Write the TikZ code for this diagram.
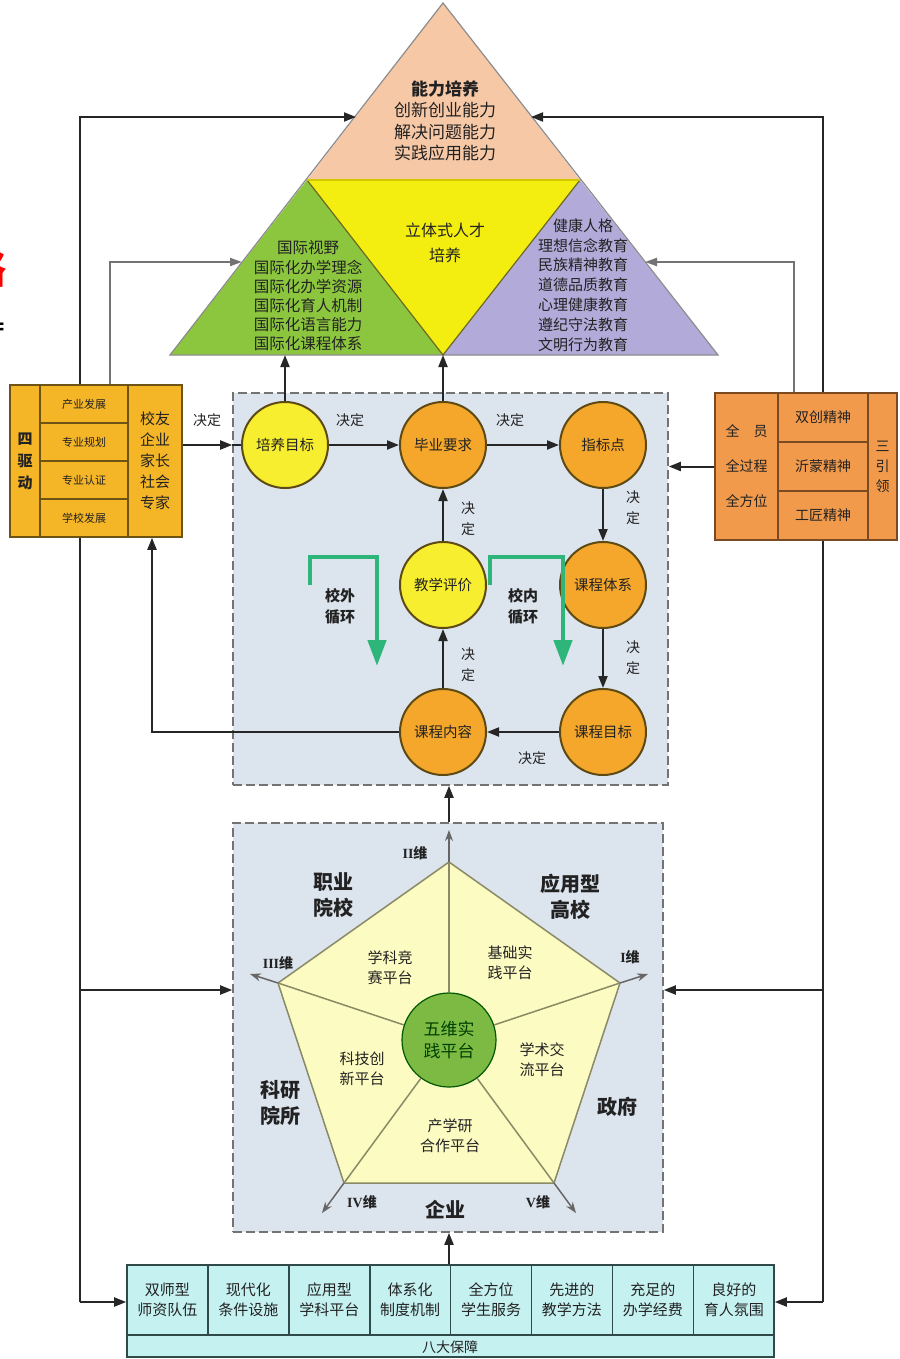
\documentclass[tikz,border=0pt]{standalone}
\usepackage{fontspec}
\setmainfont{Noto Sans CJK SC}
\newfontfamily\romanfont{Liberation Serif}
\usetikzlibrary{arrows.meta,calc}
\definecolor{peach}{HTML}{F6C8A6}
\definecolor{triyel}{HTML}{F4EE10}
\definecolor{trigrn}{HTML}{8CC63E}
\definecolor{tripur}{HTML}{B2ABD9}
\definecolor{goldbox}{HTML}{F4B526}
\definecolor{goldline}{HTML}{6E5414}
\definecolor{orgbox}{HTML}{F19A4C}
\definecolor{orgline}{HTML}{7A4A22}
\definecolor{cyel}{HTML}{F6EE2E}
\definecolor{corg}{HTML}{F4A72A}
\definecolor{cline}{HTML}{5E4A14}
\definecolor{panel}{HTML}{DCE4EE}
\definecolor{pent}{HTML}{FCFBC2}
\definecolor{pentline}{HTML}{8A8A66}
\definecolor{pgrn}{HTML}{7DBA44}
\definecolor{cell}{HTML}{C6F1F1}
\definecolor{cellline}{HTML}{2F4A48}
\definecolor{loopgrn}{HTML}{2DB57A}
\definecolor{txt}{HTML}{222222}
\tikzset{
  arr/.style={-{Triangle[length=12pt,width=9pt]}, line width=2pt, draw=black!85},
  plainline/.style={line width=2pt, draw=black!85},
  garr/.style={-{Triangle[length=12pt,width=8pt]}, line width=2pt, draw=black!55},
  parr/.style={-{Stealth[length=11pt,width=8pt]}, line width=1.5pt, draw=black!60},
  looparr/.style={-{Triangle[length=26pt,width=18pt]}, line width=4.5pt, draw=loopgrn},
  circ/.style={circle, minimum size=86pt, inner sep=0, line width=2pt, draw=cline, text=txt, font=\fontsize{14.5}{17}\selectfont},
  lbl/.style={font=\fontsize{14}{21}\selectfont, align=center, inner sep=0, text=txt},
  blbl/.style={font=\bfseries\fontsize{15}{21}\selectfont, align=center, inner sep=0, text=txt},
  plat/.style={font=\fontsize{15}{20}\selectfont, align=center, inner sep=0, text=txt},
  org/.style={font=\bfseries\fontsize{20}{26}\selectfont, align=center, inner sep=0, text=txt},
  wei/.style={font=\bfseries\fontsize{14}{16}\selectfont, inner sep=0, text=txt},
  tritxt/.style={align=center, inner sep=0, text=txt},
  dbox/.style={draw=black!55, line width=1.6pt, dash pattern=on 9pt off 4pt, fill=panel, inner sep=0},
  gcell/.style={draw=goldline, line width=1.6pt, fill=goldbox, inner sep=0, align=center, text=txt},
  ocell/.style={draw=orgline, line width=1.6pt, fill=orgbox, inner sep=0, align=center, text=txt},
  bcell/.style={draw=cellline, line width=1.6pt, fill=cell, inner sep=0, align=center, text=txt, font=\fontsize{15}{20}\selectfont, minimum height=70pt, minimum width=80.9pt}
}
\begin{document}
\begin{tikzpicture}[x=1pt,y=-1pt]
\useasboundingbox (0,0) rectangle (899,1359);
\fill[white] (0,0) rectangle (899,1359);

% ---------- triangle ----------
\coordinate (apex) at (443,3);
\coordinate (bl) at (170,355);
\coordinate (br) at (718,355);
\coordinate (ml) at (307,180);
\coordinate (mr) at (580,180);
\coordinate (mb) at (443,355);
\fill[peach] (apex)--(ml)--(mr)--cycle;
\fill[trigrn] (ml)--(bl)--(mb)--cycle;
\fill[tripur] (mr)--(mb)--(br)--cycle;
\fill[triyel] (ml)--(mr)--(mb)--cycle;
\draw[line width=1.2pt, draw=black!45] (apex)--(bl)--(br)--cycle;
\draw[line width=1.2pt, draw=olive!70!black] (ml)--(mb)--(mr);
\draw[line width=2.5pt, draw=yellow!60!olive] (ml)--(mr);

\node[tritxt, font=\fontsize{17}{21.5}\selectfont] (ability) at (445,121)
  {\textbf{能力培养}\\创新创业能力\\解决问题能力\\实践应用能力};
\node[tritxt, font=\fontsize{16}{25}\selectfont] (core) at (445,243) {立体式人才\\培养};
\node[tritxt, font=\fontsize{15.5}{19.2}\selectfont] (intl) at (308,296)
  {国际视野\\国际化办学理念\\国际化办学资源\\国际化育人机制\\国际化语言能力\\国际化课程体系};
\node[tritxt, font=\fontsize{15}{19.8}\selectfont] (moral) at (583,285)
  {健康人格\\理想信念教育\\民族精神教育\\道德品质教育\\心理健康教育\\遵纪守法教育\\文明行为教育};

% ---------- trunk lines ----------
\coordinate (L1) at (80,117);
\coordinate (L2) at (80,1302);
\coordinate (L3) at (80,990);
\coordinate (R1) at (823,117);
\coordinate (R2) at (823,1302);
\coordinate (R3) at (823,990);
\coordinate (tl) at (356,117);
\coordinate (tr) at (531,117);
\coordinate (G1) at (110,385);
\coordinate (gl) at (242,262);
\coordinate (G2) at (794,393);
\coordinate (gr) at (645,262);
\draw[arr] (L2) -- (L1) -- (tl);
\draw[arr] (R2) -- (R1) -- (tr);
\draw[garr] (G1) |- (gl);
\draw[garr] (G2) |- (gr);

% ---------- panels ----------
\node[dbox, minimum width=435pt, minimum height=392pt] (mid) at (450.5,589) {};
\node[dbox, minimum width=430pt, minimum height=409pt] (pbox) at (448,1027.5) {};
\node[draw=cellline, line width=1.6pt, fill=cell, inner sep=0, minimum width=647pt, minimum height=92pt] (bbox) at (450.5,1311) {};

% ---------- left box ----------
\node[gcell, minimum width=30pt, minimum height=152pt, font=\bfseries\fontsize{15}{22}\selectfont] (lq) at (25,461) {四\\驱\\动};
\node[gcell, minimum width=88pt, minimum height=38pt, font=\fontsize{11}{13}\selectfont] (l1) at (84,404) {产业发展};
\node[gcell, minimum width=88pt, minimum height=38pt, font=\fontsize{11}{13}\selectfont] (l2) at (84,442) {专业规划};
\node[gcell, minimum width=88pt, minimum height=38pt, font=\fontsize{11}{13}\selectfont] (l3) at (84,480) {专业认证};
\node[gcell, minimum width=88pt, minimum height=38pt, font=\fontsize{11}{13}\selectfont] (l4) at (84,518) {学校发展};
\node[gcell, minimum width=54pt, minimum height=152pt, font=\fontsize{15}{21}\selectfont] (lc) at (155,461) {校友\\企业\\家长\\社会\\专家};

% ---------- right box ----------
\node[ocell, minimum width=63pt, minimum height=147pt, font=\fontsize{14}{35}\selectfont] (rl) at (746.5,466.5) {全\hspace{1em}员\\全过程\\全方位};
\node[ocell, minimum width=90pt, minimum height=49pt, font=\fontsize{14}{17}\selectfont] (r1) at (823,417.5) {双创精神};
\node[ocell, minimum width=90pt, minimum height=49pt, font=\fontsize{14}{17}\selectfont] (r2) at (823,466.5) {沂蒙精神};
\node[ocell, minimum width=90pt, minimum height=49pt, font=\fontsize{14}{17}\selectfont] (r3) at (823,515.5) {工匠精神};
\node[ocell, minimum width=29pt, minimum height=147pt, font=\fontsize{14}{20}\selectfont] (rr) at (882.5,466.5) {三\\引\\领};

% ---------- circles ----------
\node[circ, fill=cyel] (c1) at (285,445) {培养目标};
\node[circ, fill=corg] (c2) at (443,445) {毕业要求};
\node[circ, fill=corg] (c3) at (603,445) {指标点};
\node[circ, fill=corg] (c4) at (603,585) {课程体系};
\node[circ, fill=corg] (c5) at (603,732) {课程目标};
\node[circ, fill=corg] (c6) at (443,732) {课程内容};
\node[circ, fill=cyel] (c7) at (443,585) {教学评价};

\draw[arr] (c1) -- (c2);
\draw[arr] (c2) -- (c3);
\draw[arr] (c3) -- (c4);
\draw[arr] (c4) -- (c5);
\draw[arr] (c5) -- (c6);
\draw[arr] (c6) -- (c7);
\draw[arr] (c7) -- (c2);
\draw[arr] (c1.north) -- (c1.north |- bl);
\draw[arr] (c2.north) -- (mb);
\draw[arr] (lc.east |- c1) -- (mid.west |- c1);
\draw[plainline] (mid.west |- c1) -- (c1.west);
\draw[arr] (rl.west) -- (mid.east |- rl.west);
\draw[arr] (c6.west) -| ([xshift=-3pt]lc.south);

\node[lbl] (d0) at (207,420) {决定};
\node[lbl] (d1) at (350,420) {决定};
\node[lbl] (d2) at (510,420) {决定};
\node[lbl] (d3) at (633,508) {决\\定};
\node[lbl] (d4) at (633,658) {决\\定};
\node[lbl] (d5) at (532,758) {决定};
\node[lbl] (d6) at (468,665) {决\\定};
\node[lbl] (d7) at (468,519) {决\\定};

% ---------- loops ----------
\coordinate (ga1) at (310,585);
\coordinate (ga2) at (310,557);
\coordinate (ga3) at (377,557);
\coordinate (ga4) at (377,666);
\coordinate (gb1) at (490,585);
\coordinate (gb2) at (490,557);
\coordinate (gb3) at (563,557);
\coordinate (gb4) at (563,666);
\draw[looparr] (ga1) -- (ga2) -- (ga3) -- (ga4);
\draw[looparr] (gb1) -- (gb2) -- (gb3) -- (gb4);
\node[blbl] (outloop) at (340,606) {校外\\循环};
\node[blbl] (inloop) at (523,606) {校内\\循环};

% ---------- pentagon ----------
\coordinate (P2) at (449,862);
\coordinate (P1) at (620,983);
\coordinate (P5) at (554,1183);
\coordinate (P4) at (344,1183);
\coordinate (P3) at (278,983);
\filldraw[fill=pent, draw=pentline, line width=1.5pt] (P1)--(P2)--(P3)--(P4)--(P5)--cycle;
\node[circle, minimum size=94pt, inner sep=0, fill=pgrn, draw=green!35!black, line width=1.2pt,
      font=\fontsize{17}{22}\selectfont, align=center, text=green!25!black] (pc) at (449,1040) {五维实\\践平台};
\foreach \v in {P1,P2,P3,P4,P5} \draw[draw=pentline, line width=1.5pt] (pc) -- (\v);
\coordinate (A2) at (449,830);
\coordinate (A1) at (648,974);
\coordinate (A3) at (250,974);
\coordinate (A4) at (322,1213);
\coordinate (A5) at (576,1213);
\draw[parr] (P2) -- (A2);
\draw[parr] (P1) -- (A1);
\draw[parr] (P3) -- (A3);
\draw[parr] (P4) -- (A4);
\draw[parr] (P5) -- (A5);

\node[wei] (w2) at (415,853) {{\romanfont II}维};
\node[wei] (w3) at (278,963) {{\romanfont III}维};
\node[wei] (w1) at (630,957) {{\romanfont I}维};
\node[wei] (w4) at (362,1202) {{\romanfont IV}维};
\node[wei] (w5) at (538,1202) {{\romanfont V}维};

\node[plat] (pl1) at (390,968) {学科竞\\赛平台};
\node[plat] (pl2) at (510,963) {基础实\\践平台};
\node[plat] (pl3) at (362,1069) {科技创\\新平台};
\node[plat] (pl4) at (542,1060) {学术交\\流平台};
\node[plat] (pl5) at (450,1136) {产学研\\合作平台};

\node[org] (o1) at (333,895) {职业\\院校};
\node[org] (o2) at (570,897) {应用型\\高校};
\node[org] (o3) at (280,1103) {科研\\院所};
\node[org] (o4) at (617,1107) {政府};
\node[org] (o5) at (445,1210) {企业};

% ---------- bottom ----------
\foreach \i/\t in {1/{双师型\\师资队伍},2/{现代化\\条件设施},3/{应用型\\学科平台},4/{体系化\\制度机制},5/{全方位\\学生服务},6/{先进的\\教学方法},7/{充足的\\办学经费},8/{良好的\\育人氛围}}
  \node[bcell] (b\i) at ({127+80.9*(\i-0.5)},1300) {\t};
\node[lbl, font=\fontsize{14}{16}\selectfont] (eight) at (450,1347) {八大保障};

\draw[arr] (bbox.north -| pc) -- (pbox.south -| pc);
\draw[arr] (pbox.north -| pc) -- (mid.south -| pc);
\draw[arr] (L3) -- (pbox.west |- L3);
\draw[arr] (R3) -- (pbox.east |- R3);
\draw[arr] (L2) -- (bbox.west |- L2);
\draw[arr] (R2) -- (bbox.east |- R2);

% ---------- cropped fragments at the left edge ----------
\node[text=red, font=\bfseries\fontsize{40}{40}\selectfont, anchor=east, inner sep=0] (redfrag) at (7,268) {略};
\node[font=\bfseries\fontsize{20}{20}\selectfont, anchor=east, inner sep=0] (eqfrag) at (5,329) {=};
\end{tikzpicture}
\end{document}
